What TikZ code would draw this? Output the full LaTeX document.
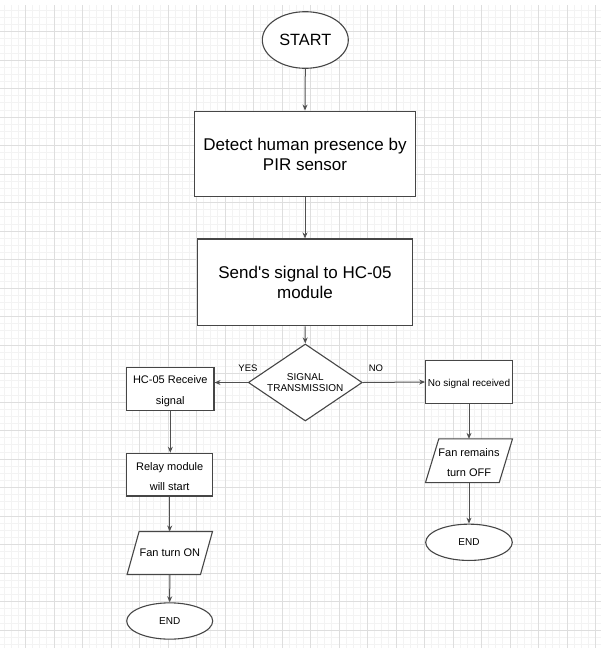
\documentclass[tikz,border=0pt]{standalone}
\usepackage{fontspec}
\setmainfont{Liberation Sans}[Ligatures=TeXOff]
\usetikzlibrary{shapes.geometric,arrows.meta}
\definecolor{minorgrid}{RGB}{243,243,243}
\definecolor{majorgrid}{RGB}{222,222,222}
\definecolor{strokec}{RGB}{70,70,70}
\definecolor{linec}{RGB}{80,80,80}
\begin{document}
\begin{tikzpicture}[x=1pt,y=-1pt,
  box/.style={draw=strokec, line width=1.2pt, fill=white, inner sep=0pt, align=center},
  oval/.style={ellipse, draw=strokec, line width=1.1pt, fill=white, inner sep=0pt, align=center},
  para/.style={inner sep=0pt, align=center},
  paraline/.style={draw=strokec, line width=1.1pt, fill=white},
  conn/.style={draw=linec, line width=1pt, -{Stealth[length=6pt,width=5pt]}},
  bigtxt/.style={font=\fontsize{17}{20}\selectfont},
  smalltxt/.style={font=\fontsize{11}{20.7}\selectfont},
  tinytxt/.style={font=\fontsize{10}{11.7}\selectfont},
  lbltxt/.style={font=\fontsize{9.5}{11}\selectfont, inner sep=0pt}
]
\useasboundingbox (0,0) rectangle (601,664);
\fill[white] (0,0) rectangle (601,664);
% grid
\begin{scope}
\clip (0,5) rectangle (601,648);
\foreach \i in {-3,...,81} {\draw[minorgrid, line width=1pt] ({25.5+7.125*\i},5) -- ({25.5+7.125*\i},648);}
\foreach \i in {-3,...,86} {\draw[minorgrid, line width=1pt] (0,{31.7+7.125*\i}) -- (601,{31.7+7.125*\i});}
\foreach \i in {-1,...,21} {\draw[majorgrid, line width=1pt] ({25.5+28.5*\i},5) -- ({25.5+28.5*\i},648);}
\foreach \i in {-1,...,22} {\draw[majorgrid, line width=1pt] (0,{31.7+28.5*\i}) -- (601,{31.7+28.5*\i});}
\end{scope}

% nodes
\node[oval, minimum width=86pt, minimum height=56.6pt, font=\fontsize{16.3}{19}\selectfont] (start) at (305.3,40) {START};
\node[box, bigtxt, minimum width=221pt, minimum height=85.7pt] (det) at (305,154) {Detect human presence by\\PIR sensor};
\node[box, bigtxt, minimum width=214.6pt, minimum height=86.7pt] (send) at (305,282.4) {Send's signal to HC-05\\module};
\node[diamond, shape aspect=1.48, draw=strokec, line width=1.1pt, fill=white, inner sep=0pt, align=center, tinytxt, minimum width=114pt, minimum height=77pt] (dec) at (305.3,382.5) {SIGNAL\\TRANSMISSION};
\node[box, minimum width=87.3pt, minimum height=42.7pt] (hcr) at (170.3,389) {};
\node[para, smalltxt] (hcrt) at (170.3,391.5) {HC-05 Receive\\signal};
\node[box, minimum width=86pt, minimum height=42.7pt] (relay) at (169.7,474.7) {};
\node[para, smalltxt] (relayt) at (169.7,476.5) {Relay module\\will start};
\node[para, minimum width=85pt, minimum height=42.6pt] (fanon) at (169.8,553) {};
\fill[paraline] ([xshift=12pt]fanon.north west) -- (fanon.north east) -- ([xshift=-12pt]fanon.south east) -- (fanon.south west) -- cycle;
\node[para, smalltxt] (fanont) at (fanon.center) {Fan turn ON};
\node[oval, tinytxt, minimum width=86pt, minimum height=36.3pt] (endl) at (169.7,621) {END};

\node[box, minimum width=86.6pt, minimum height=42.6pt] (nosig) at (469,382) {};
\node[para, tinytxt] (nosigt) at (469,383.5) {No signal received};
\node[para, minimum width=86.6pt, minimum height=43.3pt] (fanoff) at (469,460.7) {};
\fill[paraline] ([xshift=13.3pt]fanoff.north west) -- (fanoff.north east) -- ([xshift=-13.3pt]fanoff.south east) -- (fanoff.south west) -- cycle;
\node[para, smalltxt] (fanofft) at (469,462.5) {Fan remains\\turn OFF};
\node[oval, tinytxt, minimum width=86.6pt, minimum height=36.3pt] (endr) at (469,542.3) {END};

% labels
\node[lbltxt] (yes) at (248,368) {YES};
\node[lbltxt] (no) at (376,368) {NO};

% connectors
\draw[conn] (start.south) -- (det.north);
\draw[conn] (det.south) -- (send.north);
\draw[conn] (send.south) -- (dec.north);
\draw[conn] (dec.west) -- (dec.west -| hcr.east);
\draw[conn] (dec.east) -- (nosig.west);
\draw[conn] (hcr.south) -- (hcr.south |- relay.north);
\draw[conn] (relay.south) -- (relay.south |- fanon.north);
\draw[conn] (fanon.south) -- (endl.north);
\draw[conn] (nosig.south) -- (fanoff.north);
\draw[conn] (fanoff.south) -- (endr.north);
\end{tikzpicture}
\end{document}
